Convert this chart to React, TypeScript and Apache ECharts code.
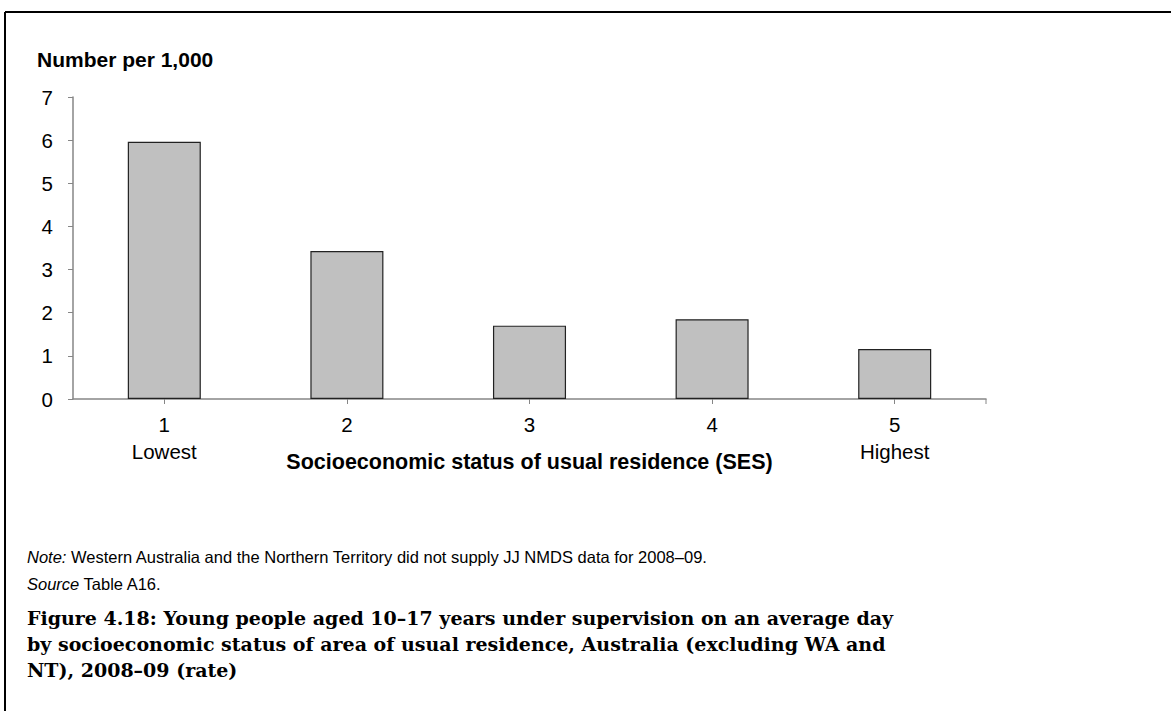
import React, { useEffect, useRef } from "react";
import * as echarts from "echarts";

const categories = ["1\nLowest", "2", "3", "4", "5\nHighest"];
const rates = [5.96, 3.43, 1.7, 1.85, 1.16];
const yTicks = { min: 0, max: 7, interval: 1 };
const yTitle = "Number per 1,000";
const xTitle = "Socioeconomic status of usual residence (SES)";
const captionLines = [
  "Figure 4.18: Young people aged 10–17 years under supervision on an average day",
  "by socioeconomic status of area of usual residence, Australia (excluding WA and",
  "NT), 2008–09 (rate)",
];

export default function App() {
  const ref = useRef<HTMLDivElement>(null);
  useEffect(() => {
    document.body.style.margin = "0";
    const chart = echarts.init(ref.current!, null, { renderer: "svg" });
    const sans = "Liberation Sans";
    const noteStyle = {
      i: { fontFamily: sans, fontSize: 16.5, fontStyle: "italic", fill: "#000" },
      n: { fontFamily: sans, fontSize: 16.5, fill: "#000" },
    };
    chart.setOption({
      animation: false,
      backgroundColor: "#ffffff",
      grid: { left: 73, right: 185, top: 97, bottom: 312, containLabel: false },
      xAxis: {
        type: "category",
        data: categories,
        name: xTitle,
        nameLocation: "middle",
        nameGap: 52,
        nameMoveOverlap: false,
        nameTextStyle: { fontFamily: sans, fontSize: 21.5, fontWeight: "bold", color: "#000" },
        axisLine: { lineStyle: { color: "#868686", width: 1.5 } },
        axisTick: { show: true, alignWithLabel: true, length: 5, lineStyle: { color: "#868686" } },
        axisLabel: { fontFamily: sans, fontSize: 20.5, color: "#000", margin: 12, lineHeight: 27 },
      },
      yAxis: {
        type: "value",
        min: yTicks.min,
        max: yTicks.max,
        interval: yTicks.interval,
        splitLine: { show: false },
        axisLine: { show: true, lineStyle: { color: "#868686", width: 1.5 } },
        axisTick: { show: true, length: 5, lineStyle: { color: "#868686" } },
        axisLabel: { fontFamily: sans, fontSize: 20.5, color: "#000", margin: 20 },
      },
      series: [
        {
          type: "bar",
          data: rates,
          barWidth: "40%",
          itemStyle: { color: "#c0c0c0", borderColor: "#222", borderWidth: 1.2 },
        },
      ],
      graphic: [
        { type: "line", shape: { x1: 5, y1: 12, x2: 1171, y2: 12 }, style: { stroke: "#000", lineWidth: 2 } },
        { type: "line", shape: { x1: 5, y1: 12, x2: 5, y2: 711 }, style: { stroke: "#000", lineWidth: 2 } },
        { type: "line", shape: { x1: 986, y1: 399, x2: 986, y2: 404 }, style: { stroke: "#868686", lineWidth: 1 } },
        {
          type: "text", left: 37, top: 49,
          style: { text: yTitle, fontFamily: sans, fontSize: 21, fontWeight: "bold", fill: "#000" },
        },
        {
          type: "text", left: 27, top: 548,
          style: {
            rich: noteStyle,
            text: "{i|Note:}{n| Western Australia and the Northern Territory did not supply JJ NMDS data for 2008–09.}",
          },
        },
        {
          type: "text", left: 27, top: 575,
          style: { rich: noteStyle, text: "{i|Source}{n| Table A16.}" },
        },
        ...captionLines.map((t, i) => ({
          type: "text", left: 27, top: 608 + i * 26,
          style: { text: t, fontFamily: "DejaVu Serif", fontSize: 19, fontWeight: "bold", fill: "#000" },
        })),
      ],
    });
    return () => chart.dispose();
  }, []);
  return <div ref={ref} style={{ width: 1171, height: 711 }} />;
}
